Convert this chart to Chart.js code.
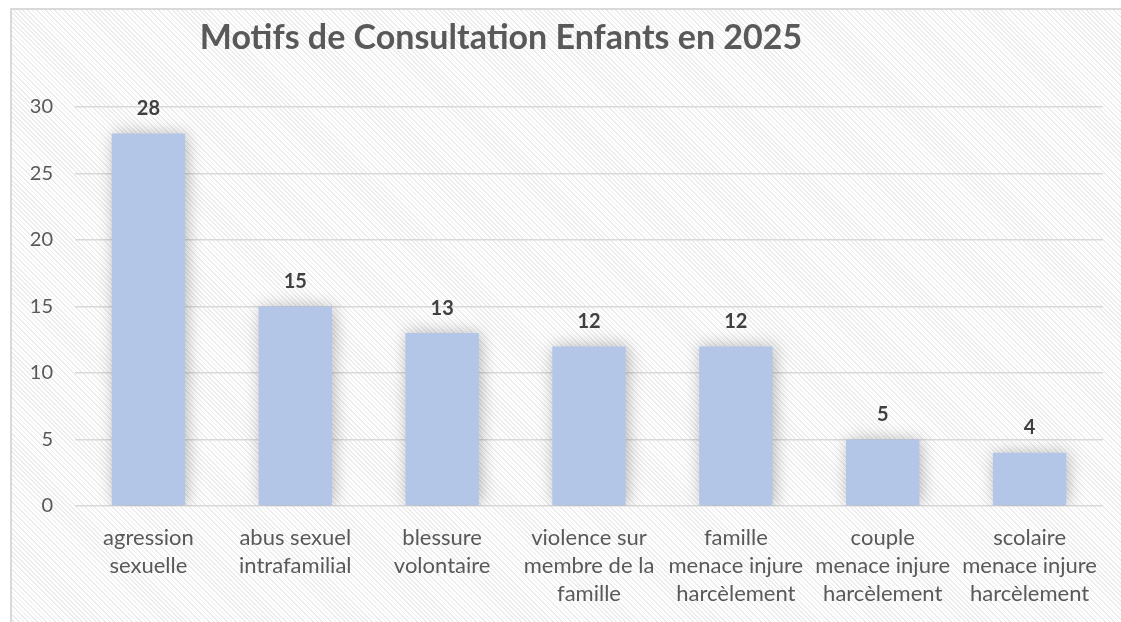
<!DOCTYPE html>
<html>
<head>
<meta charset="utf-8">
<script src="https://cdn.jsdelivr.net/npm/chart.js@4.4.1/dist/chart.umd.min.js"></script>
<style>
  html, body { margin: 0; padding: 0; background: #fff; }
  #frame {
    position: absolute; left: 10px; top: 8px; width: 1130px; height: 640px;
    border: 2px solid #d9d9d9;
    background: repeating-linear-gradient(45deg, #ffffff 0px, #ffffff 2px, #ececec 2px, #ececec 3.2px);
  }
  #wrap { position: absolute; left: 0; top: 0; width: 1121px; height: 622px; }
</style>
</head>
<body>
<div id="frame"></div>
<div id="wrap"><canvas id="chart"></canvas></div>
<script>
const TITLE = "Motifs de Consultation Enfants en 2025";
const categories = [
  ["agression", "sexuelle"],
  ["abus sexuel", "intrafamilial"],
  ["blessure", "volontaire"],
  ["violence sur", "membre de la", "famille"],
  ["famille", "menace injure", "harcèlement"],
  ["couple", "menace injure", "harcèlement"],
  ["scolaire", "menace injure", "harcèlement"],
];
const counts = [28, 15, 13, 12, 12, 5, 4];
const yTicks = { min: 0, max: 30, step: 5 };

const FONT = "Lato, 'Open Sans', sans-serif";

// Excel-like title, sits left of the plot centre
const titlePlugin = {
  id: "excelTitle",
  afterDraw(chart) {
    const ctx = chart.ctx;
    ctx.save();
    ctx.font = "bold 34px " + FONT;
    ctx.fillStyle = "#595959";
    ctx.textAlign = "center";
    ctx.textBaseline = "alphabetic";
    ctx.fillText(TITLE, 501, 49);
    ctx.restore();
  },
};

// soft shadow behind the bars
const shadowPlugin = {
  id: "barShadow",
  beforeDatasetDraw(chart) {
    const ctx = chart.ctx;
    ctx.save();
    ctx.shadowColor = "rgba(0,0,0,0.28)";
    ctx.shadowBlur = 16;
    ctx.shadowOffsetX = 2;
    ctx.shadowOffsetY = 0;
  },
  afterDatasetDraw(chart) {
    chart.ctx.restore();
  },
};

// value labels above each bar
const valueLabels = {
  id: "valueLabels",
  afterDatasetsDraw(chart) {
    const ctx = chart.ctx;
    const meta = chart.getDatasetMeta(0);
    ctx.save();
    ctx.font = "bold 20px " + FONT;
    ctx.fillStyle = "#404040";
    ctx.textAlign = "center";
    ctx.textBaseline = "middle";
    meta.data.forEach((bar, i) => {
      ctx.fillText(String(counts[i]), bar.x, bar.y - 25);
    });
    ctx.restore();
  },
};

new Chart(document.getElementById("chart"), {
  type: "bar",
  data: {
    labels: categories,
    datasets: [
      {
        data: counts,
        backgroundColor: "#b4c6e7",
        borderWidth: 0,
        barPercentage: 0.5,
        categoryPercentage: 1,
      },
    ],
  },
  options: {
    responsive: true,
    maintainAspectRatio: false,
    animation: false,
    layout: { padding: { top: 107, right: 18, left: 0, bottom: 0 } },
    plugins: {
      legend: { display: false },
      title: { display: false },
      tooltip: { enabled: false },
    },
    scales: {
      x: {
        grid: { display: false },
        border: { display: false },
        ticks: {
          color: "#595959",
          font: { family: FONT, size: 22, lineHeight: 28 / 22 },
          padding: 10,
          maxRotation: 0,
          autoSkip: false,
        },
        afterFit(scale) { scale.height = 116; },
      },
      y: {
        min: yTicks.min,
        max: yTicks.max,
        ticks: {
          stepSize: yTicks.step,
          color: "#595959",
          font: { family: FONT, size: 20 },
          padding: 22,
        },
        grid: { color: "#d9d9d9", lineWidth: 1.5, drawTicks: false },
        border: { display: false },
        afterFit(scale) { scale.width = 75; },
      },
    },
  },
  plugins: [shadowPlugin, valueLabels, titlePlugin],
});
</script>
</body>
</html>
